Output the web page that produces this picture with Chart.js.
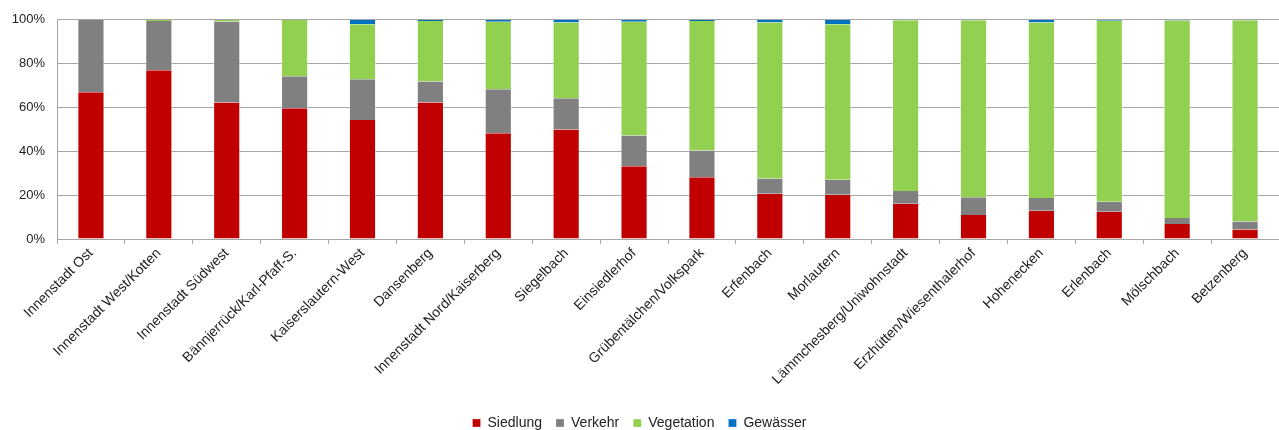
<!DOCTYPE html>
<html>
<head>
<meta charset="utf-8">
<script src="https://cdn.jsdelivr.net/npm/chart.js@4"></script>
<style>
  html, body { margin: 0; padding: 0; background: #fff; }
  #wrap { width: 1279px; height: 430px; }
</style>
</head>
<body>
<div id="wrap"><canvas id="chartFlaeche"></canvas></div>
<script>
// Stadtteile und Flächenanteile in %
const stadtteile = [
  'Innenstadt Ost', 'Innenstadt West/Kotten', 'Innenstadt Südwest', 'Bännjerrück/Karl-Pfaff-S.',
  'Kaiserslautern-West', 'Dansenberg', 'Innenstadt Nord/Kaiserberg', 'Siegelbach', 'Einsiedlerhof',
  'Grübentälchen/Volkspark', 'Erfenbach', 'Morlautern', 'Lämmchesberg/Uniwohnstadt',
  'Erzhütten/Wiesenthalerhof', 'Hohenecken', 'Erlenbach', 'Mölschbach', 'Betzenberg'
];
const siedlung   = [67.0, 77.0, 62.3, 59.7, 54.3, 62.3, 48.2, 50.0, 33.2, 28.2, 20.6, 20.2, 16.1, 11.0, 12.9, 12.4, 6.8, 4.3];
const verkehr    = [33.0, 22.5, 36.9, 14.6, 18.6, 9.6, 20.1, 14.2, 14.0, 12.2, 7.0, 6.8, 5.8, 8.1, 5.8, 4.6, 2.8, 3.7];
const vegetation = [0.0, 0.5, 0.8, 25.7, 25.1, 27.6, 30.8, 34.6, 51.9, 59.0, 71.2, 71.0, 77.9, 80.7, 80.1, 82.6, 90.1, 91.8];
const gewaesser  = [0.0, 0.0, 0.0, 0.0, 2.0, 0.5, 0.9, 1.2, 0.9, 0.6, 1.2, 2.0, 0.2, 0.2, 1.2, 0.4, 0.3, 0.2];
const yTicks = [0, 20, 40, 60, 80, 100];

Chart.defaults.font.family = '"Liberation Sans", Arial, sans-serif';
Chart.defaults.font.size = 14;
Chart.defaults.color = '#222';

const ctx = document.getElementById('chartFlaeche').getContext('2d');

function ds(label, data, color) {
  return {
    label: label,
    data: data,
    backgroundColor: color,
    borderColor: 'rgba(255,255,255,0.45)',
    borderWidth: { left: 1, right: 1, top: 0, bottom: 0 },
    borderSkipped: false,
    categoryPercentage: 1.0,
    barPercentage: 0.4
  };
}

const chartFlaeche = new Chart(ctx, {
  type: 'bar',
  data: {
    labels: stadtteile,
    datasets: [
      ds('Siedlung', siedlung, '#C00000'),
      ds('Verkehr', verkehr, '#808080'),
      ds('Vegetation', vegetation, '#92D050'),
      ds('Gewässer', gewaesser, '#0070C0')
    ]
  },
  options: {
    responsive: true,
    maintainAspectRatio: false,
    animation: false,
    // legende etwas tiefer setzen
    layout: { padding: { top: 18, right: 0, left: 0, bottom: -10 } },
    plugins: {
      tooltip: { enabled: false },
      legend: {
        position: 'bottom',
        labels: { boxWidth: 8, boxHeight: 8, padding: 14, font: { size: 14 } }
      }
    },
    scales: {
      x: {
        stacked: true,
        grid: { offset: true, drawOnChartArea: false, drawTicks: true, tickLength: 5, color: '#A6A6A6' },
        border: { display: true, color: '#A6A6A6' },
        ticks: { minRotation: 45, maxRotation: 45, autoSkip: false, padding: 1 },
        afterFit: (scale) => { scale.height = 163; }
      },
      y: {
        stacked: true,
        min: 0,
        max: 100,
        afterBuildTicks: (scale) => { scale.ticks = yTicks.map(v => ({ value: v })); },
        ticks: { callback: (v) => v + '%', padding: 12, font: { size: 13 } },
        grid: { color: '#A6A6A6', drawTicks: false },
        border: { display: true, color: '#A6A6A6' },
        afterFit: (scale) => { scale.width = 57; }
      }
    }
  }
});
</script>
</body>
</html>
